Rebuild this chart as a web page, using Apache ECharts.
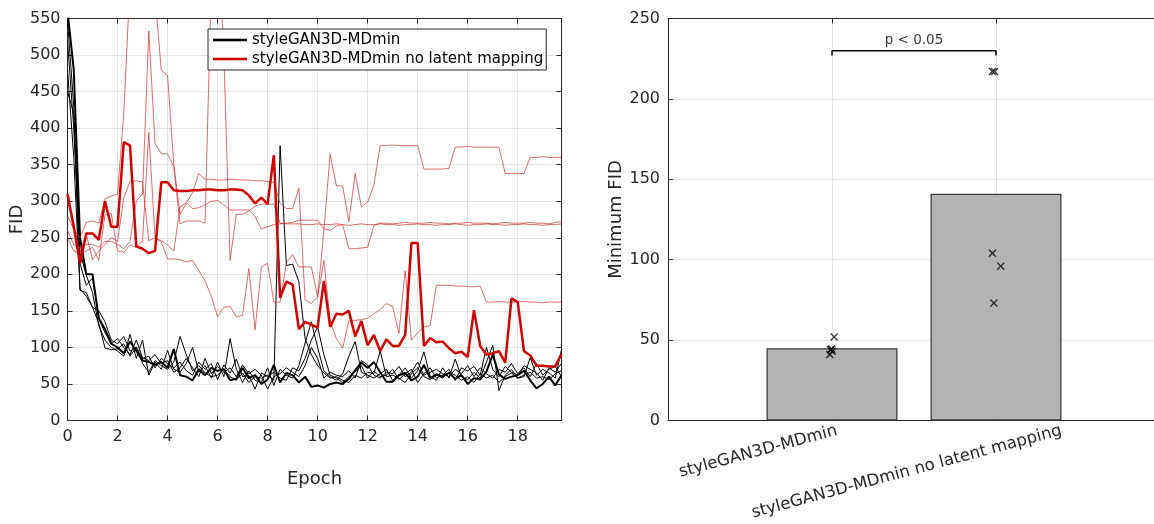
<!DOCTYPE html>
<html><head><meta charset="utf-8">
<script src="https://cdn.jsdelivr.net/npm/echarts@6/dist/echarts.min.js"></script>
<style>html,body{margin:0;padding:0;background:#fff}#c{width:1154px;height:524px}</style>
</head><body><div id="c"></div>
<script>
// ---------- data ----------
const epochs = [0,0.25,0.5,0.75,1,1.25,1.5,1.75,2,2.25,2.5,2.75,3,3.25,3.5,3.75,4,4.25,4.5,4.75,5,5.25,5.5,5.75,6,6.25,6.5,6.75,7,7.25,7.5,7.75,8,8.25,8.5,8.75,9,9.25,9.5,9.75,10,10.25,10.5,10.75,11,11.25,11.5,11.75,12,12.25,12.5,12.75,13,13.25,13.5,13.75,14,14.25,14.5,14.75,15,15.25,15.5,15.75,16,16.25,16.5,16.75,17,17.25,17.5,17.75,18,18.25,18.5,18.75,19,19.25,19.5,19.75];
const xTickLabels = ['0','2','4','6','8','10','12','14','16','18'];

// styleGAN3D-MDmin runs (black); mdMain is the thick one
const mdMain = [560,480,250,200,200,140,125,105, 100,92,108,95,82,80,76,80, 72,98,62,60,55,70,62,72, 68,70,55,57,72,58,62,50, 56,76,52,65,62,52,60,46, 48,45,50,52,50,57,69,79, 72,80,66,53,53,62,65,55, 60,76,58,63,60,65,57,62, 50,58,56,67,90,63,57,60, 62,68,55,44,50,60,48,62];
const mdRun2 = [548,430,178,175,155,133,99,97, 98,105,88,100,78,66,82,75, 70,80,115,90,68,75,65,60, 62,70,60,55,65,52,60,58, 62,55,376,212,214,190,112,90, 75,65,58,60,55,52,62,58, 66,64,95,60,62,58,52,64, 72,60,56,62,58,66,62,55, 60,52,64,58,62,52,60,65, 58,62,66,58,60,56,64,68];
const mdRun3 = [520,400,230,199,175,130,110,100, 95,88,118,85,110,62,80,70, 96,70,66,78,100,66,75,58, 80,60,112,70,52,68,55,52, 72,48,70,62,58,75,106,135, 100,68,60,55,64,88,108,66, 62,58,64,70,55,62,72,58, 68,94,60,55,72,58,84,60, 56,66,58,80,103,41,62,70, 58,60,86,62,70,65,58,97];
const mdRun4 = [480,360,180,170,155,150,135,110, 105,115,95,100,85,88,72,85, 78,72,80,68,62,80,70,78, 56,76,65,84,60,62,43,65, 60,66,58,55,72,68,85,110, 128,90,62,58,52,60,66,75, 58,68,60,62,70,56,64,70, 52,64,72,58,62,70,55,72, 68,74,62,100,70,60,74,66, 62,75,70,65,55,72,66,78];
const mdRun5 = [450,420,215,185,195,140,120,105, 112,100,90,110,86,82,90,78, 82,66,72,85,72,60,85,64, 74,66,72,60,76,64,70,62, 43,60,64,72,66,60,75,100, 85,58,66,62,60,68,58,82, 76,62,58,66,64,74,60,66, 80,62,66,70,64,60,70,64, 75,60,72,64,58,70,66,78, 64,72,60,78,62,70,74,60];

// styleGAN3D-MDmin no latent mapping runs (red); nlMain is the thick one
const nlMain = [310,265,215,256,256,247,300,265, 265,381,376,238,235,229,232,326, 326,315,314,314,315,315,316,316, 315,315,316,316,315,308,297,305, 296,363,168,190,186,125,135,131, 127,191,128,146,145,150,115,136, 103,117,95,111,102,102,117,243, 243,102,113,107,108,99,92,94, 87,151,102,90,92,95,79,167, 162,95,89,75,75,74,74,91];
const nlRun2 = [280,262,250,271,273,270,303,307, 310,420,600,650,640,620,580,479, 472,350,282,297,312,338,330,330, 329,329,330,330,329,329,328,328, 327,326,297,290,290,318,165,160, 169,260,364,321,321,272,338,292, 299,322,376,376,377,376,376,376, 376,344,344,344,344,345,374,374, 375,374,374,374,374,374,338,338, 338,338,360,360,361,360,360,360];
const nlRun3 = [260,240,236,241,241,237,245,245, 241,235,245,300,310,533,379,365, 365,347,269,273,273,273,270,600, 680,500,219,282,282,287,293,296, 296,296,270,269,269,269,268,268, 269,268,268,269,268,267,268,269, 268,268,269,268,268,267,268,268, 269,268,268,267,268,268,269,268, 267,268,268,269,268,268,267,268, 268,269,268,268,267,268,268,269];
const nlRun4 = [250,232,228,232,237,219,282,283, 232,230,240,237,246,394,250,246, 240,232,292,298,290,291,295,300, 301,295,288,288,288,288,279,262, 265,268,269,270,271,274,274,274, 274,262,260,266,268,235,235,236, 237,267,270,270,269,270,271,270, 270,270,271,270,270,269,270,270, 271,270,270,270,269,270,271,270, 270,270,271,270,270,269,271,272];
const nlRun5 = [300,268,230,255,220,232,241,250, 245,305,327,328,326,246,250,244, 221,221,220,217,219,205,191,170, 142,155,156,142,144,208,124,210, 215,162,162,216,227,210,210,210, 169,219,137,112,99,137,137,138, 140,146,152,160,156,119,205,110, 120,128,130,185,185,185,184,184, 183,183,184,162,162,163,162,162, 162,163,162,162,161,162,162,162];

// bar chart
const groups = ['styleGAN3D-MDmin', 'styleGAN3D-MDmin no latent mapping'];
const groupPos = [1, 2];
const minFidMean = [45, 141];
const minFidRuns1 = [52, 44, 43, 44.5, 41];
const minFidRuns2 = [217, 217, 104, 96, 73];
const runJitter1 = [0.013, -0.009, 0.002, -0.002, -0.013];
const runJitter2 = [-0.022, -0.009, -0.022, 0.029, -0.013];
const labelAnchors = [1.03, 2.4];   // where the rotated category labels end
const sigText = 'p < 0.05';
const sigLevel = 230;
const sigTick = 227;

// ---------- chart ----------
const FONT = 'DejaVu Sans';
const AX = '#262626';
const GRIDC = '#e4e4e4';
const toXY = arr => epochs.map((e, i) => [e, arr[i]]);

function lineS(name, arr, color, width, z) {
  return {name, type: 'line', xAxisIndex: 0, yAxisIndex: 0, data: toXY(arr), symbol: 'none',
    lineStyle: {color, width}, itemStyle: {color}, z, clip: true, silent: true, animation: false};
}
const thinRed = 'rgba(204,40,40,0.68)';
const XPATH = 'path://M0,1.2L1.2,0L5,3.8L8.8,0L10,1.2L6.2,5L10,8.8L8.8,10L5,6.2L1.2,10L0,8.8L3.8,5Z';

const baseAxis = {
  axisLine: {show: true, onZero: false, lineStyle: {color: AX, width: 1}},
  axisTick: {show: true, inside: true, length: 5, lineStyle: {color: AX}},
};

const option = {
  animation: false,
  backgroundColor: '#fff',
  textStyle: {fontFamily: FONT},
  grid: [
    {left: 67.5, top: 18.5, width: 494, height: 402, outerBoundsMode: 'none', containLabel: false},
    {left: 668, top: 18.5, width: 492, height: 402, outerBoundsMode: 'none', containLabel: false}
  ],
  legend: {
    data: [groups[0], groups[1]], left: 208, top: 29, orient: 'vertical',
    backgroundColor: '#fff', borderColor: AX, borderWidth: 1, padding: [2, 3, 2, 5],
    itemGap: 1, itemWidth: 34, itemHeight: 2.5, icon: 'rect', selectedMode: false,
    textStyle: {fontSize: 15, color: '#000', fontFamily: FONT, lineHeight: 18}, z: 20
  },
  xAxis: [
    Object.assign({}, baseAxis, {gridIndex: 0, type: 'value', min: 0, max: 19.75, interval: 2, position: 'bottom',
      axisLabel: {fontSize: 16, color: AX, fontFamily: FONT, margin: 8,
        formatter: v => { const k = Math.round(v / 2); return Math.abs(v - 2 * k) < 1e-6 && k < xTickLabels.length ? xTickLabels[k] : ''; }},
      splitLine: {show: true, lineStyle: {color: GRIDC, width: 1}},
      name: 'Epoch', nameLocation: 'middle', nameGap: 50,
      nameTextStyle: {fontSize: 18, color: AX, fontFamily: FONT}}),
    Object.assign({}, baseAxis, {gridIndex: 0, type: 'value', min: 0, max: 19.75, interval: 2, position: 'top',
      axisLabel: {show: false}, splitLine: {show: false}}),
    Object.assign({}, baseAxis, {gridIndex: 1, type: 'value', min: 0, max: 3, interval: 1, position: 'bottom',
      axisLabel: {show: false},
      splitLine: {show: true, lineStyle: {color: GRIDC, width: 1}}}),
    Object.assign({}, baseAxis, {gridIndex: 1, type: 'value', min: 0, max: 3, interval: 1, position: 'top',
      axisLabel: {show: false}, splitLine: {show: false}}),
    {gridIndex: 1, type: 'value', min: 0, max: 3, position: 'bottom',
      axisLine: {show: false}, axisTick: {show: false}, splitLine: {show: false},
      axisLabel: {show: true, customValues: labelAnchors, fontSize: 16.5, color: AX, fontFamily: FONT, margin: 10, rotate: 15,
        formatter: v => (v < 1.5 ? groups[0] : groups[1])}}
  ],
  yAxis: [
    Object.assign({}, baseAxis, {gridIndex: 0, type: 'value', min: 0, max: 550, interval: 50, position: 'left',
      axisLabel: {fontSize: 16, color: AX, fontFamily: FONT, margin: 7},
      splitLine: {show: true, lineStyle: {color: GRIDC, width: 1}},
      name: 'FID', nameLocation: 'middle', nameGap: 41,
      nameTextStyle: {fontSize: 18, color: AX, fontFamily: FONT}}),
    Object.assign({}, baseAxis, {gridIndex: 0, type: 'value', min: 0, max: 550, interval: 50, position: 'right',
      axisLabel: {show: false}, splitLine: {show: false}}),
    Object.assign({}, baseAxis, {gridIndex: 1, type: 'value', min: 0, max: 250, interval: 50, position: 'left',
      axisLabel: {fontSize: 16, color: AX, fontFamily: FONT, margin: 8},
      splitLine: {show: true, lineStyle: {color: GRIDC, width: 1}},
      name: 'Minimum FID', nameLocation: 'middle', nameGap: 40,
      nameTextStyle: {fontSize: 18, color: AX, fontFamily: FONT}}),
    Object.assign({}, baseAxis, {gridIndex: 1, type: 'value', min: 0, max: 250, interval: 50, position: 'right',
      axisLabel: {show: false}, splitLine: {show: false}})
  ],
  series: [
    lineS('md2', mdRun2, '#000', 1, 2),
    lineS('md3', mdRun3, '#000', 1, 2),
    lineS('md4', mdRun4, '#000', 1, 2),
    lineS('md5', mdRun5, '#000', 1, 2),
    lineS(groups[0], mdMain, '#000', 2, 3),
    lineS('nl2', nlRun2, thinRed, 1, 4),
    lineS('nl3', nlRun3, thinRed, 1, 4),
    lineS('nl4', nlRun4, thinRed, 1, 4),
    lineS('nl5', nlRun5, thinRed, 1, 4),
    lineS(groups[1], nlMain, '#cc0000', 2.5, 5),
    {type: 'bar', xAxisIndex: 2, yAxisIndex: 2, barWidth: 131, silent: true,
      data: minFidMean.map((v, i) => [groupPos[i], v]),
      itemStyle: {color: '#b3b3b3', borderColor: '#3a3a3a', borderWidth: 1.3}, z: 2},
    {type: 'scatter', xAxisIndex: 2, yAxisIndex: 2, symbol: XPATH, symbolSize: 8, silent: true,
      data: minFidRuns1.map((v, i) => [groupPos[0] + runJitter1[i], v]).concat(minFidRuns2.map((v, i) => [groupPos[1] + runJitter2[i], v])),
      itemStyle: {color: '#000'}, z: 5},
    {type: 'line', xAxisIndex: 2, yAxisIndex: 2, symbol: 'none', silent: true,
      data: [[groupPos[0], sigTick], [groupPos[0], sigLevel], [groupPos[1], sigLevel], [groupPos[1], sigTick]],
      lineStyle: {color: '#000', width: 1.5}, z: 6},
    {type: 'scatter', xAxisIndex: 2, yAxisIndex: 2, symbolSize: 0, silent: true,
      data: [[(groupPos[0] + groupPos[1]) / 2, sigLevel]],
      label: {show: true, position: 'top', distance: 3, formatter: sigText, fontSize: 13.5, color: '#000', fontFamily: FONT}, z: 6}
  ]
};
const chart = echarts.init(document.getElementById('c'), null, {renderer: 'canvas'});
chart.setOption(option);
</script></body></html>
